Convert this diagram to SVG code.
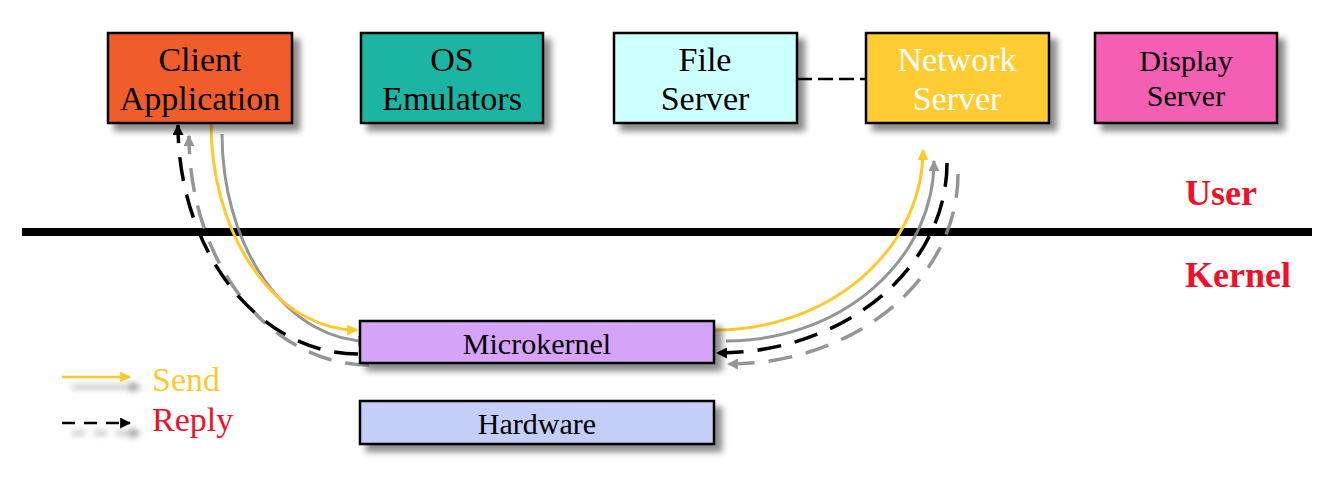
<svg xmlns="http://www.w3.org/2000/svg" width="1324" height="478" viewBox="0 0 1324 478">
<style>
.box{stroke:#000;stroke-width:2.5;filter:url(#bshadow)}
.t{font-family:"Liberation Serif","Times New Roman",serif;text-anchor:middle;fill:#000}
.big{font-size:34px}
.mid{font-size:30px}
.side{font-family:"Liberation Serif","Times New Roman",serif;font-weight:bold;font-size:36px;fill:#F0102A}
.send{fill:none;stroke:#FFC92E;stroke-width:3;filter:url(#ashadow)}
.reply{fill:none;stroke:#000;stroke-width:3.5;stroke-dasharray:24 14;filter:url(#ashadow)}
</style>
<defs>
<filter id="bshadow" x="-10%" y="-20%" width="130%" height="160%">
<feDropShadow dx="7" dy="7" stdDeviation="3" flood-color="#000" flood-opacity="0.45"/>
</filter>
<filter id="ashadow" x="-20%" y="-20%" width="140%" height="140%">
<feFlood flood-color="#8a8a8a" flood-opacity="0.9" result="c"/>
<feComposite in="c" in2="SourceAlpha" operator="in" result="s"/>
<feOffset in="s" dx="11" dy="11" result="o"/>
<feMerge><feMergeNode in="o"/><feMergeNode in="SourceGraphic"/></feMerge>
</filter>
<filter id="lshadow" filterUnits="userSpaceOnUse" x="40" y="350" width="130" height="100">
<feGaussianBlur in="SourceAlpha" stdDeviation="3" result="b"/>
<feOffset in="b" dx="10" dy="10" result="o"/>
<feComponentTransfer in="o" result="o2"><feFuncA type="linear" slope="0.45"/></feComponentTransfer>
<feMerge><feMergeNode in="o2"/><feMergeNode in="SourceGraphic"/></feMerge>
</filter>
<marker id="ay" viewBox="0 0 10 10" refX="9" refY="5" markerWidth="11" markerHeight="11" markerUnits="userSpaceOnUse" orient="auto"><path d="M0,0 L10,5 L0,10 Z" fill="#FFC92E"/></marker>
<marker id="ab" viewBox="0 0 10 10" refX="9" refY="5" markerWidth="11" markerHeight="11" markerUnits="userSpaceOnUse" orient="auto"><path d="M0,0 L10,5 L0,10 Z" fill="#000"/></marker>
</defs>
<rect width="1324" height="478" fill="#fff"/>

<line x1="22" y1="232" x2="1312" y2="232" stroke="#000" stroke-width="8"/>
<text class="side" x="1185" y="205">User</text>
<text class="side" x="1185" y="287">Kernel</text>

<g id="connectors">
<line x1="797" y1="79" x2="866" y2="79" stroke="#000" stroke-width="2.5" stroke-dasharray="15 6"/>
<path class="send" d="M211,123 A146,207 0 0 0 357,330" marker-end="url(#ay)"/>
<path class="reply" d="M358,354 A180,229 0 0 1 178,125" marker-end="url(#ab)"/>
<path class="send" d="M715,330 A208,180 0 0 0 923,150" marker-end="url(#ay)"/>
<path class="reply" d="M947,163 A229,190 0 0 1 717,353" marker-end="url(#ab)"/>
</g>

<g id="client"><rect class="box" x="108" y="33" width="184" height="90" fill="#F15D2C"/>
<text class="t big" x="200" y="71">Client</text><text class="t big" x="200" y="110">Application</text></g>
<g id="os"><rect class="box" x="361" y="33" width="182" height="90" fill="#1AB5A4"/>
<text class="t big" x="452" y="71">OS</text><text class="t big" x="452" y="110">Emulators</text></g>
<g id="file"><rect class="box" x="614" y="33" width="183" height="90" fill="#CCFFFF"/>
<text class="t big" x="705" y="71">File</text><text class="t big" x="705" y="110">Server</text></g>
<g id="network"><rect class="box" x="866" y="33" width="183" height="90" fill="#FFCC33"/>
<text class="t big" x="957" y="71" style="fill:#fff">Network</text><text class="t big" x="957" y="110" style="fill:#fff">Server</text></g>
<g id="display"><rect class="box" x="1095" y="33" width="182" height="90" fill="#F45FB4"/>
<text class="t mid" x="1186" y="71">Display</text><text class="t mid" x="1186" y="106">Server</text></g>
<g id="microkernel"><rect class="box" x="360" y="321" width="354" height="42" fill="#D5A4F8"/>
<text class="t mid" x="537" y="354">Microkernel</text></g>
<g id="hardware"><rect class="box" x="360" y="401" width="354" height="43" fill="#C3CFF8"/>
<text class="t mid" x="537" y="434">Hardware</text></g>

<g id="legend">
<path d="M62,377 H130" stroke="#FFC92E" stroke-width="2.5" marker-end="url(#ay)" filter="url(#lshadow)"/>
<path d="M62,423 H130" stroke="#000" stroke-width="2.5" stroke-dasharray="13 9" marker-end="url(#ab)" filter="url(#lshadow)"/>
<text x="152" y="391" font-family="Liberation Serif, Times New Roman, serif" font-size="34" fill="#FFC92E">Send</text>
<text x="152" y="431" font-family="Liberation Serif, Times New Roman, serif" font-size="34" fill="#F0102A">Reply</text>
</g>
</svg>
